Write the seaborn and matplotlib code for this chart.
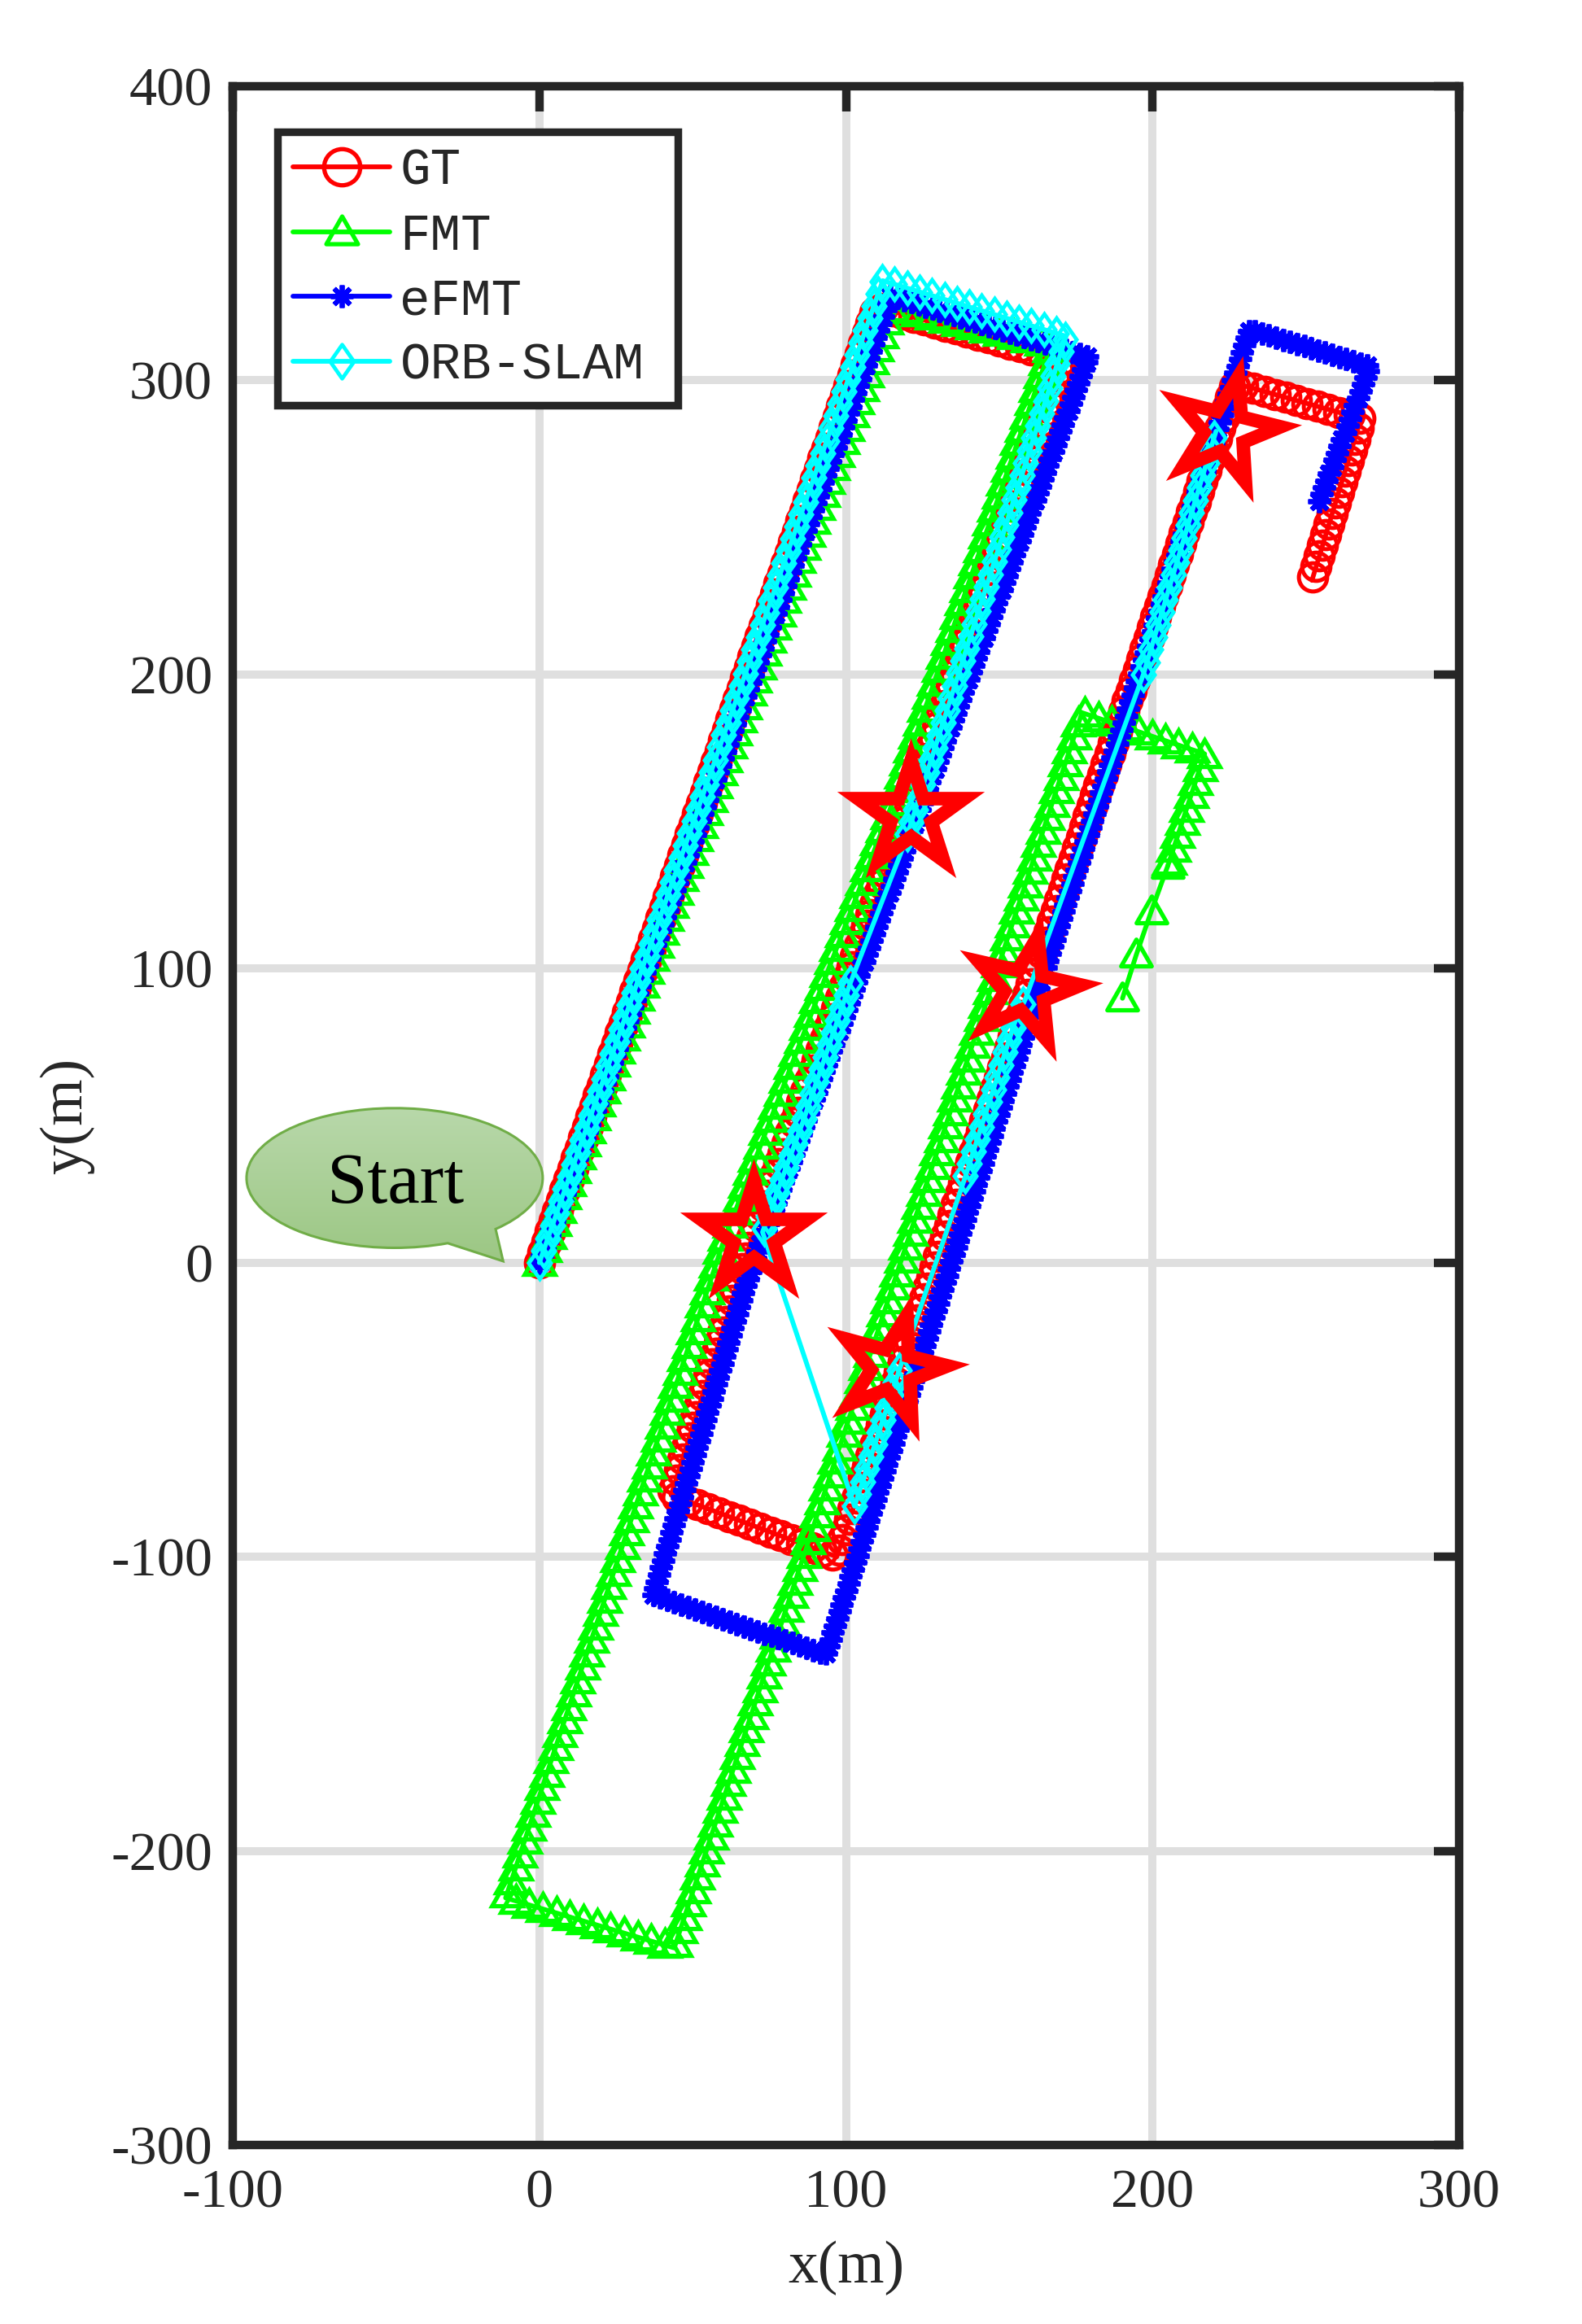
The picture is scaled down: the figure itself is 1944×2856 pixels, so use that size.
import numpy as np
import matplotlib
matplotlib.use("Agg")
import matplotlib.pyplot as plt
import seaborn as sns
from matplotlib.lines import Line2D
from matplotlib.markers import MarkerStyle
from matplotlib.path import Path
from matplotlib.patches import PathPatch
from matplotlib.patheffects import AbstractPathEffect, Normal
from matplotlib.transforms import Affine2D, IdentityTransform
from matplotlib.colors import LinearSegmentedColormap

# ---- trajectories (corners and bends), metres ----
gt_x = [0, 110, 170.5, 120, 69.5, 43, 97, 227, 268, 252]
gt_y = [0, 325, 307.5, 152, 9, -79, -100, 299, 287, 232]

fmt_x = [0, 115, 167, 114, 60, -11, 44, 177, 217, 205]
fmt_y = [0, 325, 312, 153, 7, -216, -233, 187, 173, 135]
# last few FMT samples are far apart
fmt_tail_x = [205, 199.6, 194.7, 190.2]
fmt_tail_y = [135, 119.5, 104.7, 89.9]

efmt_x = [0, 114.6, 179, 123.5, 67.5, 37, 93.4, 231.6, 270.9, 253.5]
efmt_y = [0, 328.8, 308, 152.7, -7, -113, -133.3, 317.3, 304.8, 256.9]

orb_x = [0, 112, 171.8, 119.1, 101.4, 86.1, 72.8, 102.8, 118.5, 139, 155, 158.6, 197, 220.7]
orb_y = [0, 333.9, 315, 142.5, 95, 48.3, 10.4, -82.8, -33, 29.4, 81.5, 89.8, 200, 282.7]
# segment i (orb point i -> i+1) has keyframes (True) or is a tracking jump (False)
orb_tracked = [True, True, True, False, True, True, False, True, False, True, True, False, True]

# loop closure markers
star_x = [121, 158.5, 70, 115, 223.5]
star_y = [152, 93, 9, -36, 283]

labels = ["GT", "FMT", "eFMT", "ORB-SLAM"]


class MarkerTrail(AbstractPathEffect):
    """Stamp a hollow marker every `step` points along the drawn line,
    the way a dash pattern repeats along it."""

    def __init__(self, marker, size, step, mew, color):
        super().__init__()
        self.marker = marker
        self.size, self.step, self.mew, self.color = size, step, mew, color

    def draw_path(self, renderer, gc, tpath, affine, rgbFace=None):
        pts = affine.transform(tpath.vertices)
        run = np.concatenate([[0], np.cumsum(np.hypot(*np.diff(pts, axis=0).T))])
        at = np.arange(0, run[-1] + 1e-6, renderer.points_to_pixels(self.step))
        stamps = np.column_stack([np.interp(at, run, pts[:, 0]), np.interp(at, run, pts[:, 1])])
        gc0 = renderer.new_gc()
        gc0.copy_properties(gc)
        gc0.set_linewidth(self.mew)
        gc0.set_foreground(self.color)
        gc0.set_joinstyle("miter")
        gc0.set_capstyle("butt")
        mtrans = self.marker.get_transform() + Affine2D().scale(renderer.points_to_pixels(self.size))
        renderer.draw_markers(gc0, self.marker.get_path(), mtrans, Path(stamps),
                              IdentityTransform(), None)
        gc0.restore()


tri = MarkerStyle(Path([(0, 1), (-1, -0.75), (1, -0.75), (0, 1)], closed=True), joinstyle="miter")
dia = MarkerStyle(Path([(0, 1), (0.7, 0), (0, -1), (-0.7, 0), (0, 1)], closed=True), joinstyle="miter")
ring = MarkerStyle("o")
ast = MarkerStyle((8, 2, 0))

RED, GREEN, BLUE, CYAN = "#ff0000", "#00ff00", "#0000ff", "#00ffff"
LW = 4.2

sns.set_theme(style="whitegrid", rc={
    "axes.edgecolor": "#262626",
    "grid.color": "#dfdfdf",
    "axes.unicode_minus": False,
})
plt.rcParams["font.family"] = ["Liberation Serif", "DejaVu Serif"]

fig = plt.figure(figsize=(19.44, 28.56), dpi=100)
ax = fig.add_axes([0.14712, 0.07703, 0.77521, 0.88585])


def track(x, y, color, marker, size, step, mew, z):
    sns.lineplot(x=x, y=y, sort=False, estimator=None, color=color, lw=LW, ax=ax, zorder=z)
    ln = ax.lines[-1]
    ln.set_path_effects([Normal(), MarkerTrail(marker, size, step, mew, color)])


track(gt_x, gt_y, RED, ring, 25, 9.8, 3.6, 3.0)
track(fmt_x, fmt_y, GREEN, tri, 27, 12.5, 3.8, 3.1)
sns.lineplot(x=fmt_tail_x, y=fmt_tail_y, sort=False, estimator=None, color=GREEN, lw=LW,
             marker=tri, ms=27, mew=3.8, mfc="none", mec=GREEN, ax=ax, zorder=3.1)
track(efmt_x, efmt_y, BLUE, ast, 20, 6.5, 4.2, 3.2)

# ORB-SLAM: plain line through every keyframe, diamonds only where tracked
sns.lineplot(x=orb_x, y=orb_y, sort=False, estimator=None, color=CYAN, lw=LW, ax=ax, zorder=3.3)
i = 0
while i < len(orb_tracked):
    if orb_tracked[i]:
        j = i
        while j < len(orb_tracked) and orb_tracked[j]:
            j += 1
        ax.plot(orb_x[i:j + 1], orb_y[i:j + 1], color=CYAN, lw=LW, zorder=3.3,
                path_effects=[MarkerTrail(dia, 28, 11.5, 3.4, CYAN)])
        i = j
    else:
        i += 1

star_tilt = [0, -13, 0, -15, -14]
for sx, sy, t in zip(star_x, star_y, star_tilt):
    st = MarkerStyle("*", joinstyle="miter", transform=Affine2D().rotate_deg(t))
    ax.plot([sx], [sy], ls="none", marker=st, ms=98, mew=12, mec=RED, mfc="none", zorder=4)

# ---- "Start" speech bubble ----
bub_c, bub_a, bub_b, bub_tip = (-47.2, 28.8), 48.3, 23.75, (-11.8, 0.5)
arc = Path.arc(-47, 291)
bv = Affine2D().scale(bub_a, bub_b).translate(*bub_c).transform(arc.vertices)
bpath = Path(np.vstack([bv, [bub_tip], bv[:1]]),
             np.concatenate([arc.codes, [Path.LINETO, Path.CLOSEPOLY]]))
bubble = PathPatch(bpath, fc="none", ec="#70ad47", lw=2.2, zorder=2.7)
ax.add_patch(bubble)
cmap = LinearSegmentedColormap.from_list("bub", ["#9cc784", "#b8d8aa"])
img = ax.imshow(np.linspace(0, 1, 100).reshape(-1, 1), cmap=cmap, origin="lower",
                extent=(bub_c[0] - bub_a, bub_c[0] + bub_a, bub_tip[1], bub_c[1] + bub_b),
                aspect="auto", zorder=2.6, interpolation="bilinear")
img.set_clip_path(bubble)
ax.text(-46.8, 20.4, "Start", ha="center", va="baseline", fontsize=64, color="black",
        family="Liberation Serif", zorder=2.8)

# ---- axes ----
ax.set_xlim(-100, 300)
ax.set_ylim(-300, 400)
ax.set_aspect("auto")
ax.set_xticks([-100, 0, 100, 200, 300])
ax.set_yticks([-300, -200, -100, 0, 100, 200, 300, 400])
ax.grid(True, color="#dfdfdf", lw=7.2)
ax.set_axisbelow(True)
ax.set_facecolor("white")
for sp in ax.spines.values():
    sp.set_visible(True)
    sp.set_linewidth(7.5)
    sp.set_color("#262626")
    sp.set_zorder(5)
ax.tick_params(direction="in", length=22, width=7.5, color="#262626", top=True, right=True,
               labelsize=49, labelcolor="#262626")
ax.tick_params(axis="x", pad=21)
ax.tick_params(axis="y", pad=18)

ax.set_xlabel("x(m)", fontsize=53, color="#262626")
ax.set_ylabel("y(m)", fontsize=53, color="#262626")
ax.xaxis.label.set_va("center")
ax.yaxis.label.set_va("center")
ax.xaxis.set_label_coords(0.5, -0.060)
ax.yaxis.set_label_coords(-0.1354, 0.5)

handles = [
    Line2D([], [], color=RED, lw=LW, marker=ring, ms=32, mew=3.8, mfc="none", mec=RED),
    Line2D([], [], color=GREEN, lw=LW, marker=tri, ms=28, mew=3.8, mfc="none", mec=GREEN),
    Line2D([], [], color=BLUE, lw=LW, marker=ast, ms=20, mew=4.2, mfc="none", mec=BLUE),
    Line2D([], [], color=CYAN, lw=LW, marker=dia, ms=30, mew=3.4, mfc="none", mec=CYAN),
]
leg = ax.legend(handles, labels, loc="upper left", bbox_to_anchor=(0.0368, 0.8458, 0.3265, 0.132),
                mode="expand", borderaxespad=0, prop={"family": "Liberation Mono", "size": 45},
                handlelength=1.9, handletextpad=0.2, labelspacing=0.33, borderpad=0.3,
                frameon=True, fancybox=False, framealpha=1, edgecolor="#262626", numpoints=1)
leg.get_frame().set_linewidth(6.8)
leg.set_zorder(6)

fig.savefig("out.png", dpi=100)
